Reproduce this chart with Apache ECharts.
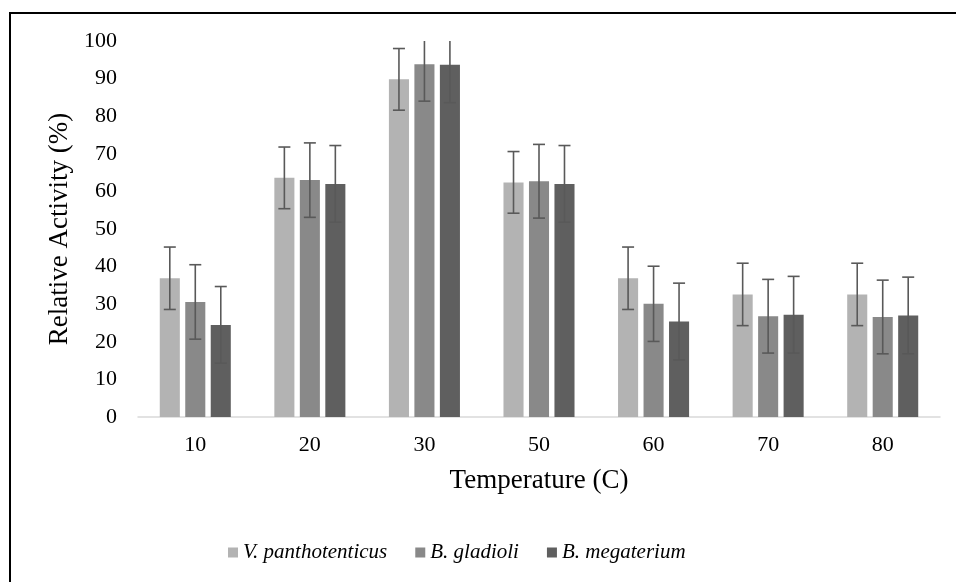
<!DOCTYPE html>
<html>
<head>
<meta charset="utf-8">
<script src="https://cdn.jsdelivr.net/npm/echarts@6/dist/echarts.min.js"></script>
<style>
html,body{margin:0;padding:0;background:#fff;}
#chart{width:956px;height:582px;}
</style>
</head>
<body>
<div id="chart"></div>
<script>
const categories = ['10', '20', '30', '50', '60', '70', '80'];
const seriesNames = ['V. panthotenticus', 'B. gladioli', 'B. megaterium'];
const vPanthotenticus = [36.9, 63.6, 89.8, 62.4, 36.9, 32.6, 32.6];
const bGladioli = [30.6, 63.0, 93.8, 62.7, 30.1, 26.8, 26.6];
const bMegaterium = [24.5, 62.0, 93.7, 62.0, 25.4, 27.2, 27.0];
const vPanthotenticusErr = [8.3, 8.2, 8.2, 8.2, 8.3, 8.3, 8.3];
const bGladioliErr = [9.9, 9.9, 9.8, 9.8, 10.0, 9.8, 9.8];
const bMegateriumErr = [10.2, 10.2, 10.1, 10.2, 10.2, 10.2, 10.2];
const yTicks = { min: 0, max: 100, interval: 10 };

const values = [vPanthotenticus, bGladioli, bMegaterium];
const errors = [vPanthotenticusErr, bGladioliErr, bMegateriumErr];
const colors = ['#b3b3b3', '#898989', '#5f5f5f'];
const CAT_GAP = 0.38, BAR_GAP = 0.27;
const FONT = '"Liberation Serif", "Times New Roman", serif';

const series = [];
values.forEach((vals, i) => {
  series.push({
    name: seriesNames[i],
    type: 'bar',
    data: vals,
    barCategoryGap: (CAT_GAP * 100) + '%',
    barGap: (BAR_GAP * 100) + '%',
    itemStyle: { color: colors[i] },
    emphasis: { disabled: true }
  });
});
values.forEach((vals, i) => {
  series.push({
    type: 'custom',
    name: seriesNames[i] + ' err',
    clip: true,
    z: 5,
    silent: true,
    encode: { x: 0, y: [1, 2] },
    data: vals.map((v, k) => [k, v - errors[i][k], v + errors[i][k]]),
    renderItem: function (params, api) {
      const x = api.value(0);
      const lo = api.value(1), hi = api.value(2);
      const bandW = api.size([1, 0])[0];
      const barW = bandW * (1 - CAT_GAP) / (3 + 2 * BAR_GAP);
      const offset = (i - 1) * barW * (1 + BAR_GAP);
      const pHi = api.coord([x, hi]);
      const pLo = api.coord([x, lo]);
      const cx = pHi[0] + offset;
      const hw = 6;
      const st = { stroke: '#595959', lineWidth: 1.6 };
      return {
        type: 'group',
        children: [
          { type: 'line', shape: { x1: cx, y1: pHi[1], x2: cx, y2: pLo[1] }, style: st },
          { type: 'line', shape: { x1: cx - hw, y1: pHi[1], x2: cx + hw, y2: pHi[1] }, style: st },
          { type: 'line', shape: { x1: cx - hw, y1: pLo[1], x2: cx + hw, y2: pLo[1] }, style: st }
        ]
      };
    }
  });
});

const chart = echarts.init(document.getElementById('chart'));
chart.setOption({
  animation: false,
  backgroundColor: '#fff',
  textStyle: { fontFamily: FONT },
  graphic: [{
    type: 'rect',
    shape: { x: 10, y: 13, width: 1000, height: 700 },
    style: { fill: 'none', stroke: '#000', lineWidth: 2 },
    silent: true
  }],
  grid: { left: 138, right: 16, top: 41, bottom: 165 },
  legend: {
    data: seriesNames,
    bottom: 14,
    left: 223,
    icon: 'rect',
    itemWidth: 10,
    itemHeight: 10,
    itemGap: 28,
    textStyle: { fontFamily: FONT, fontStyle: 'italic', fontSize: 21, color: '#000' }
  },
  xAxis: {
    type: 'category',
    data: categories,
    name: 'Temperature (C)',
    nameLocation: 'middle',
    nameGap: 50,
    nameTextStyle: { fontFamily: FONT, fontSize: 27, color: '#000' },
    axisLine: { lineStyle: { color: '#d9d9d9', width: 1.5 } },
    axisTick: { show: false },
    axisLabel: { fontFamily: FONT, fontSize: 22, color: '#000', margin: 17 }
  },
  yAxis: {
    type: 'value',
    min: yTicks.min,
    max: yTicks.max,
    interval: yTicks.interval,
    name: 'Relative Activity (%)',
    nameLocation: 'middle',
    nameGap: 60,
    nameTextStyle: { fontFamily: FONT, fontSize: 27, color: '#000' },
    axisLine: { show: false },
    axisTick: { show: false },
    splitLine: { show: false },
    axisLabel: { fontFamily: FONT, fontSize: 22, color: '#000', margin: 21 }
  },
  series: series
});
</script>
</body>
</html>
